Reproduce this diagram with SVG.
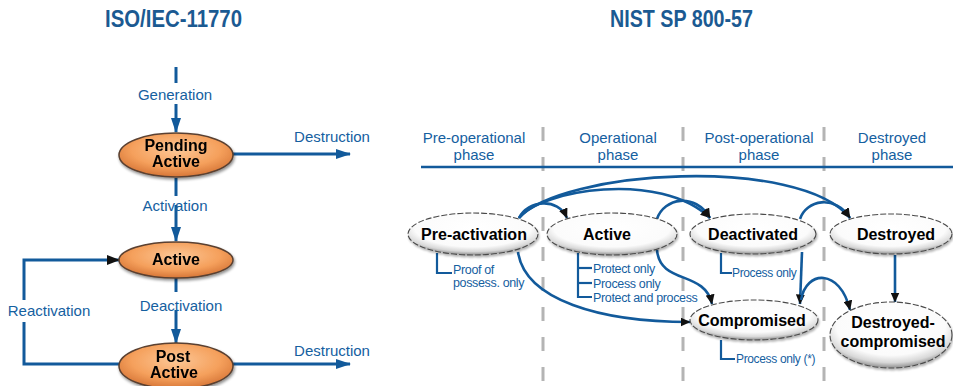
<svg xmlns="http://www.w3.org/2000/svg" width="953" height="386" viewBox="0 0 953 386">
<defs>
<style>
.title{font-family:"Liberation Sans",Arial,sans-serif;font-weight:bold;font-size:24px;fill:#1b5a92}
.lbl{font-family:"Liberation Sans",Arial,sans-serif;font-size:15px;fill:#15609f}
.ann{font-family:"Liberation Sans",Arial,sans-serif;font-size:12.5px;fill:#15609f;letter-spacing:-0.35px}
.node{font-family:"Liberation Sans",Arial,sans-serif;font-weight:bold;font-size:16px;fill:#000;text-anchor:middle}
.ln{fill:none;stroke:#125a9b;stroke-width:3}
.rl{fill:none;stroke:#125a9b;stroke-width:2.6}
.br{fill:none;stroke:#125a9b;stroke-width:2.2}
.dash{stroke:#b4b4b4;stroke-width:3;stroke-dasharray:14 16}
.orange{fill:url(#og);stroke:#5a4030;stroke-width:1.5}
.white{fill:url(#wg);stroke:#4a4a4a;stroke-width:1.1;stroke-dasharray:6 2}
</style>
<radialGradient id="og" cx="50%" cy="38%" r="60%">
<stop offset="0" stop-color="#fcc796"/>
<stop offset="0.65" stop-color="#f5a05c"/>
<stop offset="1" stop-color="#d9793a"/>
</radialGradient>
<radialGradient id="wg" cx="50%" cy="36%" r="62%">
<stop offset="0" stop-color="#ffffff"/>
<stop offset="0.72" stop-color="#fbfbfb"/>
<stop offset="0.9" stop-color="#d8d8d8"/>
<stop offset="1" stop-color="#a0a0a0"/>
</radialGradient>
<filter id="sh" x="-20%" y="-30%" width="140%" height="160%">
<feGaussianBlur in="SourceAlpha" stdDeviation="1.5"/>
<feOffset dx="1" dy="2" result="b"/>
<feComponentTransfer><feFuncA type="linear" slope="0.45"/></feComponentTransfer>
<feMerge><feMergeNode/><feMergeNode in="SourceGraphic"/></feMerge>
</filter>
<filter id="shw" x="-20%" y="-30%" width="140%" height="160%">
<feGaussianBlur in="SourceAlpha" stdDeviation="1.2"/>
<feOffset dx="0.5" dy="1.5" result="b"/>
<feComponentTransfer><feFuncA type="linear" slope="0.3"/></feComponentTransfer>
<feMerge><feMergeNode/><feMergeNode in="SourceGraphic"/></feMerge>
</filter>
<marker id="ab" markerUnits="userSpaceOnUse" viewBox="0 0 15 10" refX="14" refY="5" markerWidth="15" markerHeight="10" orient="auto">
<path d="M0,0 L15,5 L0,10 z" fill="#125a9b"/>
</marker>
<marker id="akl" markerUnits="userSpaceOnUse" viewBox="0 0 13 10" refX="12" refY="5" markerWidth="13" markerHeight="10" orient="auto">
<path d="M0,0 L13,5 L0,10 z" fill="#111"/>
</marker>
<marker id="ak" markerUnits="userSpaceOnUse" viewBox="0 0 10 9" refX="9.5" refY="4.5" markerWidth="10" markerHeight="9" orient="auto">
<path d="M0,0 L10,4.5 L0,9 z" fill="#111"/>
</marker>
</defs>
<rect width="953" height="386" fill="#fff"/>

<!-- titles -->
<text class="title" x="105" y="27" textLength="137" lengthAdjust="spacingAndGlyphs">ISO/IEC-11770</text>
<text class="title" x="610" y="27" textLength="143" lengthAdjust="spacingAndGlyphs">NIST SP 800-57</text>

<!-- phase headers -->
<g id="phases">
<line x1="543" y1="127" x2="543" y2="386" class="dash"/>
<line x1="683" y1="127" x2="683" y2="386" class="dash"/>
<line x1="824" y1="127" x2="824" y2="386" class="dash"/>
<line x1="421" y1="167" x2="953" y2="167" stroke="#125a9b" stroke-width="2.5"/>
<text class="lbl" x="474" y="143" text-anchor="middle">Pre-operational</text>
<text class="lbl" x="474" y="160" text-anchor="middle">phase</text>
<text class="lbl" x="618" y="143" text-anchor="middle">Operational</text>
<text class="lbl" x="618" y="160" text-anchor="middle">phase</text>
<text class="lbl" x="759" y="143" text-anchor="middle">Post-operational</text>
<text class="lbl" x="759" y="160" text-anchor="middle">phase</text>
<text class="lbl" x="892" y="143" text-anchor="middle">Destroyed</text>
<text class="lbl" x="892" y="160" text-anchor="middle">phase</text>
</g>

<!-- connectors -->
<g id="connectors">
<!-- left -->
<line x1="176" y1="67" x2="176" y2="83" class="ln"/>
<line x1="176" y1="104" x2="176" y2="132" class="ln" marker-end="url(#ab)"/>
<line x1="233" y1="154" x2="350" y2="154" class="ln" marker-end="url(#ab)"/>
<line x1="176" y1="178" x2="176" y2="196" class="ln"/>
<line x1="176" y1="205" x2="176" y2="241" class="ln" marker-end="url(#ab)"/>
<line x1="176" y1="278" x2="176" y2="292" class="ln"/>
<line x1="176" y1="310" x2="176" y2="343" class="ln" marker-end="url(#ab)"/>
<line x1="233" y1="364" x2="350" y2="364" class="ln" marker-end="url(#ab)"/>
<polyline points="119,364 24,364 24,322" class="ln"/>
<polyline points="24,300 24,260 119,260" class="ln" marker-end="url(#akl)"/>
<text class="lbl" x="175" y="100" text-anchor="middle">Generation</text>
<text class="lbl" x="332" y="142" text-anchor="middle">Destruction</text>
<text class="lbl" x="175" y="211" text-anchor="middle">Activation</text>
<text class="lbl" x="181" y="311" text-anchor="middle">Deactivation</text>
<text class="lbl" x="49" y="316" text-anchor="middle">Reactivation</text>
<text class="lbl" x="332" y="356" text-anchor="middle">Destruction</text>
<!-- right -->
<path d="M519,218 C528,200 558,197 567,218" class="rl" marker-end="url(#ak)"/>
<path d="M519,218 C540,190 660,170 710,218" class="rl" marker-end="url(#ak)"/>
<path d="M519,218 C560,170 800,155 850,218" class="rl" marker-end="url(#ak)"/>
<path d="M657,219 C664,198 695,192 710,218" class="rl" marker-end="url(#ak)"/>
<path d="M800,219 C806,200 835,194 850,218" class="rl" marker-end="url(#ak)"/>
<path d="M518,252 C525,300 600,322 690,322" class="rl" marker-end="url(#ak)"/>
<path d="M657,250 C660,285 705,270 712,304" class="rl" marker-end="url(#ak)"/>
<path d="M802,252 L800,304" class="rl" marker-end="url(#ak)"/>
<path d="M801,300 C806,270 840,268 850,310" class="rl" marker-end="url(#ak)"/>
<path d="M895,255 L895,302" class="rl" marker-end="url(#ak)"/>
<!-- annotation brackets -->
<polyline points="437,253 437,273 452,273" class="br"/>
<polyline points="578,253 578,297 592,297" class="br"/>
<line x1="578" y1="268" x2="592" y2="268" class="br"/>
<line x1="578" y1="283" x2="592" y2="283" class="br"/>
<polyline points="721,253 721,273 732,273" class="br"/>
<polyline points="721,340 721,359 735,359" class="br"/>
</g>

<!-- left nodes -->
<g id="iso-pending-active" filter="url(#sh)">
<ellipse cx="176" cy="155" rx="57" ry="22" class="orange"/>
<text class="node" x="176" y="151">Pending</text>
<text class="node" x="176" y="167">Active</text>
</g>
<g id="iso-active" filter="url(#sh)">
<ellipse cx="176" cy="260" rx="57" ry="18" class="orange"/>
<text class="node" x="176" y="265">Active</text>
</g>
<g id="iso-post-active" filter="url(#sh)">
<ellipse cx="176" cy="366" rx="57" ry="23" class="orange"/>
<text class="node" x="173" y="362">Post</text>
<text class="node" x="174" y="378">Active</text>
</g>

<!-- right nodes -->
<g id="nist-pre-activation">
<ellipse cx="473" cy="234" rx="65" ry="21" class="white" filter="url(#shw)"/>
<text class="node" x="474" y="240">Pre-activation</text>
<text class="ann" x="453" y="274">Proof of</text>
<text class="ann" x="453" y="287">possess. only</text>
</g>
<g id="nist-active">
<ellipse cx="612" cy="234" rx="65" ry="21" class="white" filter="url(#shw)"/>
<text class="node" x="607" y="240">Active</text>
<text class="ann" x="593" y="273">Protect only</text>
<text class="ann" x="593" y="288">Process only</text>
<text class="ann" x="593" y="302">Protect and process</text>
</g>
<g id="nist-deactivated">
<ellipse cx="753" cy="234" rx="63" ry="20" class="white" filter="url(#shw)"/>
<text class="node" x="753" y="240">Deactivated</text>
<text class="ann" x="732" y="277" style="font-size:12px">Process only</text>
</g>
<g id="nist-destroyed">
<ellipse cx="891" cy="234" rx="61" ry="20" class="white" filter="url(#shw)"/>
<text class="node" x="896" y="240">Destroyed</text>
</g>
<g id="nist-compromised">
<ellipse cx="754" cy="320" rx="64" ry="20" class="white" filter="url(#shw)"/>
<text class="node" x="752" y="326">Compromised</text>
<text class="ann" x="736" y="363" style="font-size:12px">Process only (*)</text>
</g>
<g id="nist-destroyed-compromised">
<ellipse cx="891" cy="335" rx="61" ry="33" class="white" filter="url(#shw)"/>
<text class="node" x="893" y="328">Destroyed-</text>
<text class="node" x="893" y="347">compromised</text>
</g>
</svg>
